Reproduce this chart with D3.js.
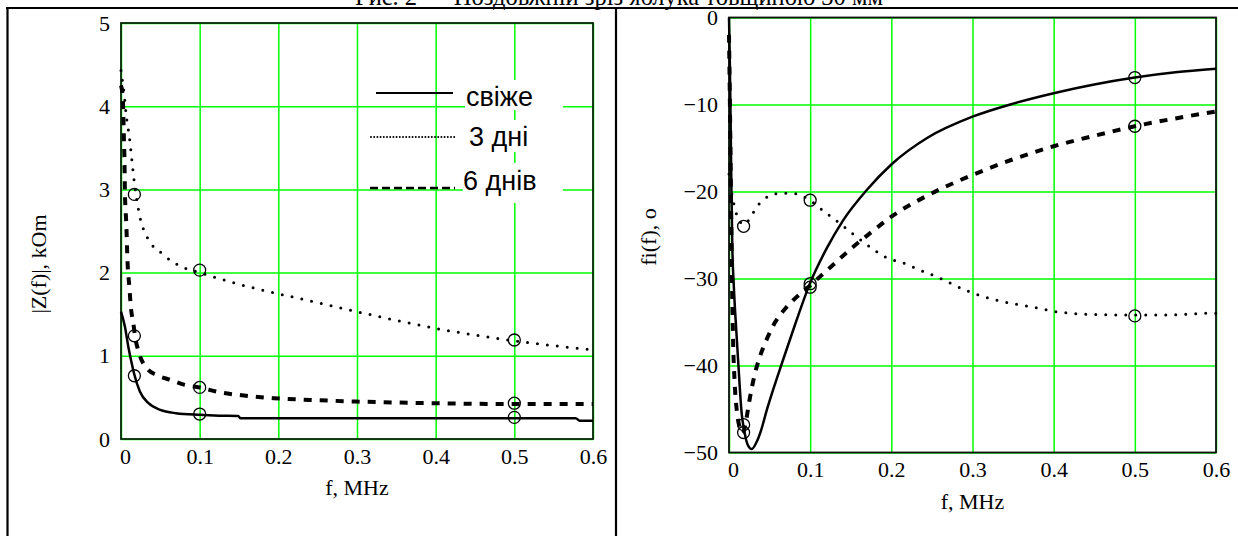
<!DOCTYPE html>
<html>
<head>
<meta charset="utf-8">
<script src="https://cdn.jsdelivr.net/npm/d3@7"></script>
<style>
  body { margin: 0; background: #fff; }
  svg { display: block; }
  .grid line { stroke: #00ff00; stroke-width: 1.5; }
  .grid .domain { display: none; }
</style>
</head>
<body>
<svg></svg>
<script>
const width = 1238;
const height = 536;

const titleText = "Рис. 2 — Поздовжній зріз яблука товщиною 30 мм";
const seriesNames = ["свіже", "3 дні", "6 днів"];

// |Z(f)|, kOm
const zFreshF = [0, 0.005, 0.0093, 0.0136, 0.0165, 0.024, 0.035, 0.05, 0.07, 0.1, 0.125, 0.149, 0.152, 0.3, 0.4, 0.5, 0.578, 0.583, 0.6];
const zFreshV = [1.53, 1.35, 1.11, 0.91, 0.79, 0.57, 0.43, 0.35, 0.31, 0.29, 0.28, 0.275, 0.25, 0.25, 0.25, 0.25, 0.25, 0.22, 0.22];
const z3dF = [0, 0.002, 0.004, 0.0064, 0.0106, 0.017, 0.024, 0.033, 0.052, 0.077, 0.1, 0.15, 0.198, 0.245, 0.3, 0.4, 0.5, 0.6];
const z3dV = [4.43, 4.29, 4.15, 3.91, 3.63, 3.08, 2.67, 2.43, 2.23, 2.07, 2.0, 1.86, 1.75, 1.65, 1.53, 1.33, 1.18, 1.07];
const z6dF = [0, 0.002, 0.003, 0.0035, 0.0045, 0.005, 0.006, 0.007, 0.008, 0.0106, 0.0127, 0.0157, 0.0178, 0.023, 0.033, 0.045, 0.063, 0.081, 0.1, 0.126, 0.149, 0.194, 0.24, 0.3, 0.4, 0.5, 0.6];
const z6dV = [4.25, 4.13, 3.89, 3.67, 3.3, 2.95, 2.73, 2.51, 2.2, 1.83, 1.57, 1.39, 1.24, 1.03, 0.85, 0.77, 0.71, 0.65, 0.62, 0.56, 0.53, 0.49, 0.47, 0.45, 0.43, 0.42, 0.42];

// fi(f), degrees
const phFreshF = [0, 0.001, 0.002, 0.003, 0.004, 0.006, 0.009, 0.0115, 0.0156, 0.019, 0.023, 0.028, 0.034, 0.04, 0.046, 0.055, 0.065, 0.081, 0.1, 0.12, 0.14, 0.17, 0.2, 0.245, 0.3, 0.35, 0.4, 0.45, 0.5, 0.55, 0.6];
const phFreshV = [0, -5, -12, -20, -26, -31, -36, -39.8, -45.5, -47.6, -49.1, -49.6, -48.8, -47.3, -45.3, -42.6, -39.8, -35.4, -30.5, -26.6, -23.4, -19.8, -16.9, -13.8, -11.4, -9.9, -8.7, -7.7, -6.9, -6.3, -5.9];
const ph3dF = [0, 0.004, 0.008, 0.013, 0.019, 0.025, 0.034, 0.05, 0.065, 0.077, 0.098, 0.116, 0.137, 0.153, 0.174, 0.194, 0.217, 0.237, 0.256, 0.293, 0.33, 0.375, 0.402, 0.441, 0.5, 0.54, 0.589, 0.6];
const ph3dV = [-18, -20.5, -22.2, -23.4, -23.8, -23.2, -21.8, -20.5, -20.2, -20.2, -20.9, -22.2, -23.7, -24.9, -26.4, -27.6, -28.3, -29.1, -29.8, -31.4, -32.5, -33.3, -33.8, -34.1, -34.2, -34.2, -34.0, -34.0];
const ph6dF = [0, 0.001, 0.002, 0.003, 0.004, 0.005, 0.007, 0.01, 0.014, 0.017, 0.02, 0.026, 0.031, 0.038, 0.046, 0.057, 0.069, 0.079, 0.1, 0.125, 0.15, 0.175, 0.2, 0.25, 0.3, 0.35, 0.4, 0.45, 0.5, 0.55, 0.6];
const ph6dV = [-2, -9, -17, -25, -32, -37, -42, -45.5, -47.3, -47.8, -46.8, -43.6, -41.3, -39, -37.1, -35, -33.5, -32.5, -30.8, -28.7, -26.6, -24.7, -22.9, -20.2, -18.1, -16.3, -14.8, -13.6, -12.5, -11.6, -10.8];

// measured points (circles)
const zMarkF = [0.017, 0.1, 0.5];
const zMarkFresh = [0.76, 0.30, 0.26];
const zMark3d = [2.94, 2.03, 1.19];
const zMark6d = [1.24, 0.62, 0.43];
const phMarkF = [0.018, 0.1, 0.5];
const phMarkFresh = [-46.8, -30.6, -6.9];
const phMark3d = [-24.0, -21.0, -34.3];
const phMark6d = [-47.7, -31.0, -12.5];

const xTicks = [0, 0.1, 0.2, 0.3, 0.4, 0.5, 0.6];
const zTicks = [0, 1, 2, 3, 4, 5];
const phTicks = [-50, -40, -30, -20, -10, 0];

const serif = "'Liberation Serif', 'Times New Roman', serif";

const styles = [
  { width: 2.5, dash: null, cap: "butt" },
  { width: 3, dash: "0,10", cap: "round" },
  { width: 4, dash: "8,8", cap: "butt" }
];

const svg = d3.select("svg").attr("width", width).attr("height", height);
svg.append("rect").attr("width", width).attr("height", height).attr("fill", "#fff");

// title (cut by the page edge)
svg.append("text")
   .attr("x", 619).attr("y", 5)
   .attr("text-anchor", "middle")
   .style("font-family", serif)
   .style("font-size", "24.5px")
   .text(titleText);

// table lines
svg.append("line").attr("x1", 6).attr("x2", width).attr("y1", 8).attr("y2", 8).attr("stroke", "#000").attr("stroke-width", 2.2);
svg.append("line").attr("x1", 7.5).attr("x2", 7.5).attr("y1", 8).attr("y2", height).attr("stroke", "#000").attr("stroke-width", 2.2);
svg.append("line").attr("x1", 616).attr("x2", 616).attr("y1", 8).attr("y2", height).attr("stroke", "#000").attr("stroke-width", 2.2);

const drawPanel = (opt) => {
  const x = d3.scaleLinear().domain([0, 0.6]).range([opt.left, opt.right]);
  const y = d3.scaleLinear().domain(opt.yDomain).range([opt.bottom, opt.top]);
  const g = svg.append("g");

  g.append("g").attr("class", "grid")
   .attr("transform", "translate(0," + opt.bottom + ")")
   .call(d3.axisBottom(x).tickValues(xTicks).tickSize(-(opt.bottom - opt.top)).tickFormat(""));
  g.append("g").attr("class", "grid")
   .attr("transform", "translate(" + opt.left + ",0)")
   .call(d3.axisLeft(y).tickValues(opt.yTicks).tickSize(-(opt.right - opt.left)).tickFormat(""));

  if (opt.legend) opt.legend(g);

  g.append("rect")
   .attr("x", opt.left).attr("y", opt.top)
   .attr("width", opt.right - opt.left).attr("height", opt.bottom - opt.top)
   .attr("fill", "none").attr("stroke", opt.frame).attr("stroke-width", 1.8);

  const xa = g.append("g")
   .attr("transform", "translate(0," + opt.bottom + ")")
   .call(d3.axisBottom(x).tickValues(xTicks).tickSize(0).tickPadding(9)
     .tickFormat(d => d === 0 ? "0" : d3.format(".1f")(d)));
  xa.select(".domain").remove();
  xa.selectAll(".tick").filter(d => d === 0).select("text").attr("dx", 4);

  const ya = g.append("g")
   .attr("transform", "translate(" + opt.left + ",0)")
   .call(d3.axisLeft(y).tickValues(opt.yTicks).tickSize(0).tickPadding(11).tickFormat(d3.format("d")));
  ya.select(".domain").remove();

  g.selectAll(".tick text")
   .style("font-family", serif)
   .style("font-size", "22px")
   .style("fill", "#000");

  const line = d3.line().x(d => x(d[0])).y(d => y(d[1])).curve(d3.curveMonotoneX);
  opt.series.forEach((s, i) => {
    const pts = s.f.map((f, j) => [f, s.v[j]]);
    g.append("path")
     .attr("d", line(pts))
     .attr("fill", "none")
     .attr("stroke", "#000")
     .attr("stroke-width", styles[i].width)
     .attr("stroke-linecap", styles[i].cap)
     .attr("stroke-linejoin", "round")
     .attr("stroke-dasharray", styles[i].dash);
    g.selectAll(null)
     .data(s.mf.map((f, j) => [f, s.mv[j]]))
     .enter().append("circle")
     .attr("cx", d => x(d[0])).attr("cy", d => y(d[1]))
     .attr("r", 6)
     .attr("fill", "none").attr("stroke", "#000").attr("stroke-width", 1.3);
  });

  g.append("text")
   .attr("x", (opt.left + opt.right) / 2).attr("y", opt.bottom + 56)
   .attr("text-anchor", "middle")
   .style("font-family", serif).style("font-size", "22px")
   .text("f, MHz");
  g.append("text")
   .attr("transform", "translate(" + opt.yLabelX + "," + opt.yLabelY + ") rotate(-90)")
   .attr("text-anchor", "middle")
   .attr("dy", "0.35em")
   .style("font-family", serif).style("font-size", "22px")
   .text(opt.yLabel);
};

const zLegend = (g) => {
  const items = [
    { tx: 466, ty: 106, ly: 93, x1: 376, x2: 453, box: [465, 80, 98, 30], w: 2, dash: null, cap: "butt" },
    { tx: 469, ty: 146, ly: 137, x1: 371, x2: 457, box: [465, 120, 98, 32], w: 2, dash: "0,3.2", cap: "round" },
    { tx: 463, ty: 190, ly: 188, x1: 370, x2: 455, box: [463, 163, 100, 40], w: 2.4, dash: "8,4", cap: "butt" }
  ];
  items.forEach((it, i) => {
    g.append("rect").attr("x", it.box[0]).attr("y", it.box[1]).attr("width", it.box[2]).attr("height", it.box[3]).attr("fill", "#fff");
    g.append("line").attr("x1", it.x1).attr("x2", it.x2).attr("y1", it.ly).attr("y2", it.ly)
     .attr("stroke", "#000").attr("stroke-width", it.w).attr("stroke-dasharray", it.dash).attr("stroke-linecap", it.cap);
    g.append("text").attr("x", it.tx).attr("y", it.ty)
     .style("font-family", "'Liberation Sans', Arial, sans-serif").style("font-size", "27px")
     .text(seriesNames[i]);
  });
};

drawPanel({
  left: 121, right: 593, top: 23, bottom: 439,
  yDomain: [0, 5], yTicks: zTicks, frame: "#0b260b",
  series: [
    { f: zFreshF, v: zFreshV, mf: zMarkF, mv: zMarkFresh },
    { f: z3dF, v: z3dV, mf: zMarkF, mv: zMark3d },
    { f: z6dF, v: z6dV, mf: zMarkF, mv: zMark6d }
  ],
  legend: zLegend,
  yLabel: "|Z(f)|, kOm", yLabelX: 38, yLabelY: 264
});

drawPanel({
  left: 729, right: 1216, top: 17.5, bottom: 452.5,
  yDomain: [-50, 0], yTicks: phTicks, frame: "#111",
  series: [
    { f: phFreshF, v: phFreshV, mf: phMarkF, mv: phMarkFresh },
    { f: ph3dF, v: ph3dV, mf: phMarkF, mv: phMark3d },
    { f: ph6dF, v: ph6dV, mf: phMarkF, mv: phMark6d }
  ],
  legend: null,
  yLabel: "fi(f), o", yLabelX: 648, yLabelY: 237
});
</script>
</body>
</html>
